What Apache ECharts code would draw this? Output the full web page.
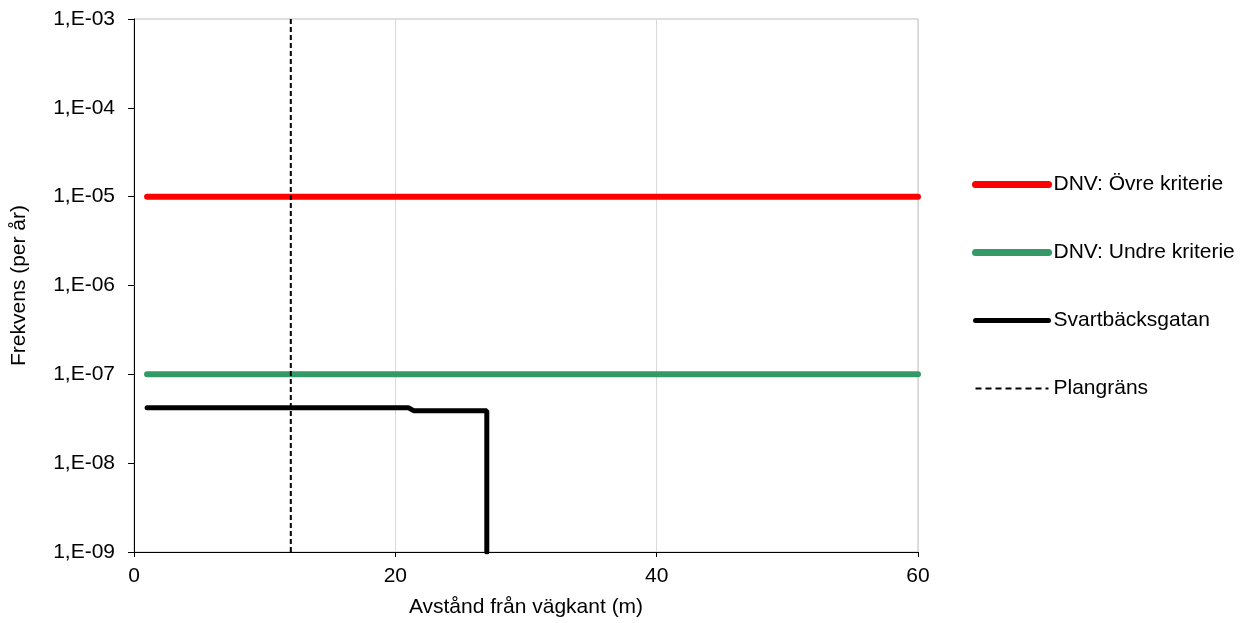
<!DOCTYPE html>
<html><head><meta charset="utf-8">
<script src="https://cdn.jsdelivr.net/npm/echarts@6/dist/echarts.min.js"></script>
<style>html,body{margin:0;padding:0;background:#fff}#c{width:1242px;height:623px}</style>
</head><body><div id="c"></div>
<script>
const xTicks = [0, 20, 40, 60];
const ovreKriterie = [[1, 1e-5], [60, 1e-5]];
const undreKriterie = [[1, 1e-7], [60, 1e-7]];
const svartbacksgatan = [[1, 4.2e-8], [21, 4.2e-8], [21.4, 3.9e-8], [27, 3.9e-8], [27, 1e-9]];
const plangrans = [[12, 1e-9], [12, 1e-3]];
const seriesNames = ['DNV: Övre kriterie', 'DNV: Undre kriterie', 'Svartbäcksgatan', 'Plangräns'];
const colors = ['#ff0000', '#339966', '#000000', '#000000'];

const chart = echarts.init(document.getElementById('c'));
const font = 'Liberation Sans, Arial, sans-serif';
const hidden = { color: 'rgba(0,0,0,0)', borderWidth: 0, opacity: 0 };
chart.setOption({
  animation: false,
  textStyle: { fontFamily: font },
  grid: { left: 134, right: 324, top: 19, bottom: 70, show: true, borderColor: '#bfbfbf', borderWidth: 1 },
  legend: {
    orient: 'vertical', left: 972, top: 174, padding: 0, itemWidth: 73, itemHeight: 20, itemGap: 47,
    textStyle: { fontSize: 21, lineHeight: 20, color: '#000', fontFamily: font },
    data: [
      { name: seriesNames[0], itemStyle: hidden, lineStyle: { color: colors[0], width: 7, cap: 'round' } },
      { name: seriesNames[1], itemStyle: hidden, lineStyle: { color: colors[1], width: 7, cap: 'round' } },
      { name: seriesNames[2], itemStyle: hidden, lineStyle: { color: colors[2], width: 5, cap: 'round' } },
      { name: seriesNames[3], itemStyle: hidden, lineStyle: { color: colors[3], width: 2, type: [6, 4] } }
    ]
  },
  xAxis: {
    type: 'value', min: xTicks[0], max: xTicks[xTicks.length - 1], interval: 20,
    name: 'Avstånd från vägkant (m)', nameLocation: 'middle', nameGap: 45,
    nameTextStyle: { fontSize: 21, color: '#000' },
    axisLine: { lineStyle: { color: '#000', width: 1 } },
    axisTick: { show: true, length: 5, lineStyle: { color: '#000' } },
    axisLabel: { fontSize: 21, color: '#000', margin: 14 },
    splitLine: { show: true, lineStyle: { color: '#d9d9d9', width: 1 } }
  },
  yAxis: {
    type: 'log', logBase: 10, min: 1e-9, max: 1e-3,
    name: 'Frekvens (per år)', nameLocation: 'middle', nameGap: 104,
    nameTextStyle: { fontSize: 21, color: '#000' },
    axisLine: { show: true, lineStyle: { color: '#000', width: 1 } },
    axisTick: { show: true, length: 6, lineStyle: { color: '#000' } },
    axisLabel: {
      fontSize: 21, color: '#000', margin: 19,
      formatter: v => '1,E-' + String(-Math.round(Math.log10(v))).padStart(2, '0')
    },
    splitLine: { show: false }
  },
  series: [
    { name: seriesNames[0], type: 'line', data: ovreKriterie, symbol: 'none',
      lineStyle: { color: colors[0], width: 6, cap: 'round' }, itemStyle: { color: colors[0] } },
    { name: seriesNames[1], type: 'line', data: undreKriterie, symbol: 'none',
      lineStyle: { color: colors[1], width: 6, cap: 'round' }, itemStyle: { color: colors[1] } },
    { name: seriesNames[2], type: 'line', data: svartbacksgatan, symbol: 'none',
      lineStyle: { color: colors[2], width: 5, cap: 'round' }, itemStyle: { color: colors[2] } },
    { name: seriesNames[3], type: 'line', data: plangrans, symbol: 'none',
      lineStyle: { color: colors[3], width: 2, type: [5, 3] }, itemStyle: { color: colors[3] } }
  ]
});
</script></body></html>
